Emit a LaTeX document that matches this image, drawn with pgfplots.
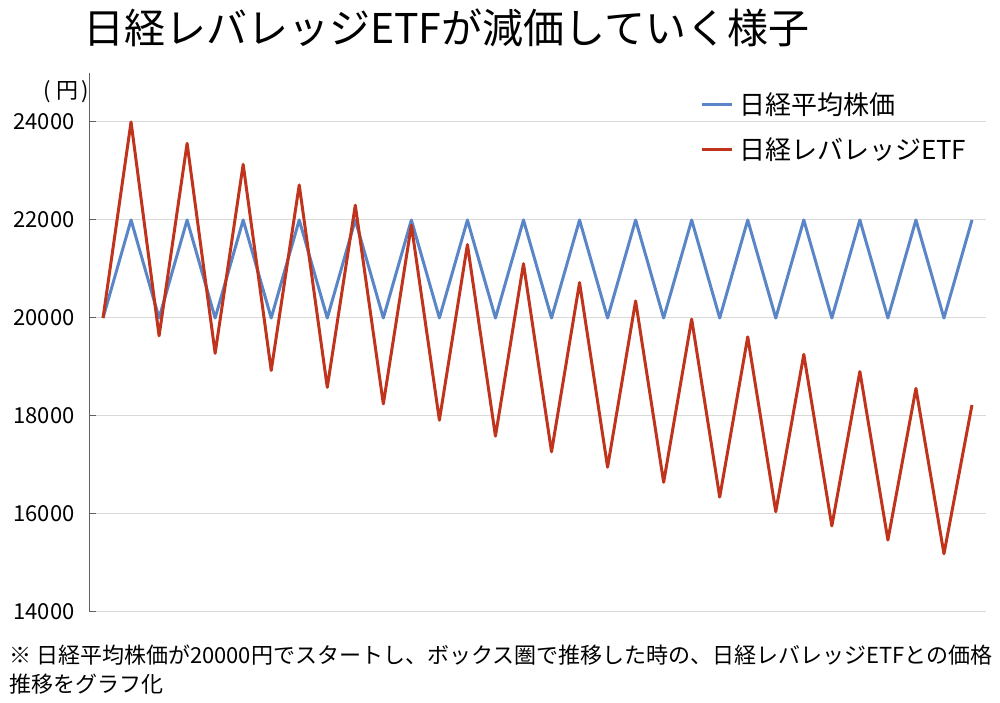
\documentclass[border=0pt]{standalone}
\usepackage{fontspec}
\setmainfont{Noto Sans CJK JP}
\usepackage{pgfplots}
\pgfplotsset{compat=1.18}

\definecolor{nikkeiblue}{HTML}{5A86C8}
\definecolor{etfred}{HTML}{C0341D}
\definecolor{gridgray}{HTML}{D9D9D9}
\definecolor{axisgray}{HTML}{606060}

\begin{document}
\begin{tikzpicture}[x=1pt,y=1pt]
\useasboundingbox (0,0) rectangle (1000,703);
\begin{axis}[
  at={(89pt,91pt)}, anchor=south west,
  scale only axis, width=897pt, height=539pt,
  xmin=-0.5, xmax=31.5, ymin=14000, ymax=25000,
  axis y line=left, axis x line=none,
  axis line style={-, axisgray, line width=1pt},
  xtick=\empty,
  ytick={14000,16000,18000,20000,22000,24000},
  ymajorgrids, grid style={gridgray, line width=1pt},
  tick align=inside, major tick length=7pt,
  tick style={axisgray, line width=1pt},
  yticklabel style={font=\fontsize{22}{22}\selectfont, xshift=-11pt},
  /pgf/number format/assume math mode=true,
  scaled y ticks=false,
  yticklabel={\pgfmathprintnumber[fixed,precision=0,set thousands separator={}]{\tick}},
  legend style={at={(rel axis cs:0.681,0.968)}, anchor=north west,
    draw=none, fill=none, font=\fontsize{26}{26}\selectfont,
    row sep=18pt, inner sep=0pt},
  legend cell align=left,
  legend image code/.code={\draw[#1, line width=3pt] (0pt,0pt) -- (30pt,0pt);},
]
\addplot[nikkeiblue, line width=3pt, line join=round] coordinates {
(0,20000)(1,22000)(2,20000)(3,22000)(4,20000)(5,22000)(6,20000)(7,22000)
(8,20000)(9,22000)(10,20000)(11,22000)(12,20000)(13,22000)(14,20000)(15,22000)
(16,20000)(17,22000)(18,20000)(19,22000)(20,20000)(21,22000)(22,20000)(23,22000)
(24,20000)(25,22000)(26,20000)(27,22000)(28,20000)(29,22000)(30,20000)(31,22000)
};
\addlegendentry{\hspace{4pt}日経平均株価}
\addplot[etfred, line width=3pt, line join=round] coordinates {
(0,20000)(1,24000)(2,19636)(3,23564)(4,19279)(5,23135)(6,18929)(7,22715)
(8,18585)(9,22302)(10,18247)(11,21896)(12,17915)(13,21498)(14,17589)(15,21107)
(16,17269)(17,20723)(18,16955)(19,20347)(20,16647)(21,19977)(22,16345)(23,19614)
(24,16047)(25,19257)(26,15756)(27,18907)(28,15469)(29,18563)(30,15188)(31,18225)
};
\addlegendentry{\hspace{4pt}日経レバレッジETF}
\end{axis}
\node[anchor=base west, inner sep=0pt, font=\fontsize{41}{41}\selectfont] at (83,659) {日経レバレッジETFが減価していく様子};
\node[anchor=base east, inner sep=0pt, font=\fontsize{22}{22}\selectfont] at (89,604) {(\hspace{5pt}円\hspace{3pt})};
\node[anchor=base west, inner sep=0pt, font=\fontsize{22}{22}\selectfont] at (9,39) {※ 日経平均株価が20000円でスタートし、ボックス圏で推移した時の、日経レバレッジETFとの価格};
\node[anchor=base west, inner sep=0pt, font=\fontsize{22}{22}\selectfont] at (9,10) {推移をグラフ化};
\end{tikzpicture}
\end{document}
